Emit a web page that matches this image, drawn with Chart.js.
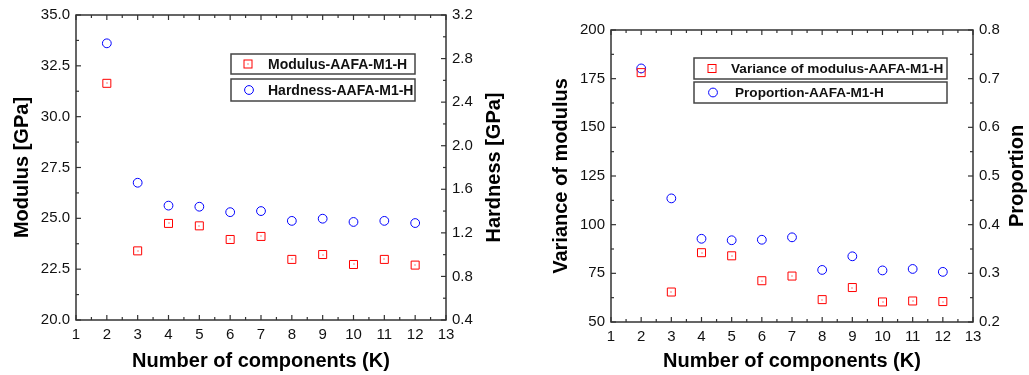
<!DOCTYPE html>
<html>
<head>
<meta charset="utf-8">
<script src="https://cdn.jsdelivr.net/npm/chart.js@4.4.0/dist/chart.umd.min.js"></script>
<style>
html, body { margin: 0; padding: 0; background: #fff; }
#wrap { position: relative; width: 1029px; height: 375px; }
#leftBox { position: absolute; left: 0; top: 0; width: 515px; height: 375px; }
#rightBox { position: absolute; left: 520px; top: 0; width: 509px; height: 375px; }
</style>
</head>
<body>
<div id="wrap">
	<div id="leftBox"><canvas id="leftChart" width="515" height="375"></canvas></div>
	<div id="rightBox"><canvas id="rightChart" width="509" height="375"></canvas></div>
</div>
<script>
// values
var kValues = [2, 3, 4, 5, 6, 7, 8, 9, 10, 11, 12];
var modulus = [31.64, 23.40, 24.75, 24.63, 23.96, 24.11, 22.98, 23.22, 22.73, 22.98, 22.70];
var hardness = [2.94, 1.66, 1.45, 1.44, 1.39, 1.40, 1.31, 1.33, 1.30, 1.31, 1.29];
var variance = [178.1, 65.4, 85.6, 84.0, 71.2, 73.6, 61.5, 67.7, 60.3, 60.8, 60.5];
var proportion = [0.721, 0.454, 0.371, 0.368, 0.369, 0.374, 0.307, 0.335, 0.306, 0.309, 0.303];

var FONT = 'Arial, "Liberation Sans", sans-serif';
var RED = '#ff0000';
var BLUE = '#0000ff';

function toPoints(xs, ys){
	var pts = [];
	for (var i = 0; i < xs.length; i++) pts.push({x: xs[i], y: ys[i]});
	return pts;
}

function drawMarker(ctx, style, x, y){
	ctx.save();
	ctx.lineWidth = 1;
	if (style === 'rect') {
		ctx.strokeStyle = RED;
		ctx.strokeRect(x - 4, y - 4, 8, 8);
		ctx.fillStyle = RED;
		ctx.fillRect(x - 0.5, y - 0.5, 1, 1);
	} else {
		ctx.strokeStyle = BLUE;
		ctx.beginPath();
		ctx.arc(x, y, 4.4, 0, Math.PI * 2);
		ctx.stroke();
	}
	ctx.restore();
}

// inward ticks (major + minor) on every side of the box
function drawScaleTicks(ctx, scale, minor, area, sides){
	var min = scale.min, max = scale.max;
	var n = Math.round((max - min) / minor);
	for (var i = 0; i <= n; i++) {
		var v = min + i * minor;
		var len = (i % 2 === 0) ? 5 : 3;
		var p = scale.getPixelForValue(v);
		ctx.beginPath();
		sides.forEach(function(s){
			if (s === 'bottom') { ctx.moveTo(p, area.bottom); ctx.lineTo(p, area.bottom - len); }
			if (s === 'top') { ctx.moveTo(p, area.top); ctx.lineTo(p, area.top + len); }
			if (s === 'left') { ctx.moveTo(area.left, p); ctx.lineTo(area.left + len, p); }
			if (s === 'right') { ctx.moveTo(area.right, p); ctx.lineTo(area.right - len, p); }
		});
		ctx.stroke();
	}
}

var boxPlugin = {
	id: 'boxPlugin',
	afterDatasetsDraw: function(chart){
		var ctx = chart.ctx;
		var meta = chart.getDatasetMeta(0);
		ctx.save();
		ctx.fillStyle = RED;
		meta.data.forEach(function(pt){
			ctx.fillRect(Math.round(pt.x) - 0.5, Math.round(pt.y) - 0.5, 1, 1);
		});
		ctx.restore();
	},
	afterDraw: function(chart, args, opts){
		var ctx = chart.ctx;
		var area = chart.chartArea;
		ctx.save();
		ctx.strokeStyle = '#333';
		ctx.lineWidth = 1.2;
		drawScaleTicks(ctx, chart.scales.x, opts.xMinor, area, ['bottom', 'top']);
		drawScaleTicks(ctx, chart.scales.y, opts.yMinor, area, ['left']);
		drawScaleTicks(ctx, chart.scales.y1, opts.y1Minor, area, ['right']);
		ctx.lineWidth = 1.5;
		ctx.strokeRect(area.left, area.top, area.right - area.left, area.bottom - area.top);

		// right axis title, reading bottom to top
		ctx.fillStyle = '#000';
		ctx.font = 'bold 20px ' + FONT;
		ctx.textAlign = 'center';
		ctx.textBaseline = 'middle';
		ctx.translate(chart.scales.y1.right - opts.rightTitleOffset, (area.top + area.bottom) / 2);
		ctx.rotate(-Math.PI / 2);
		ctx.fillText(opts.rightTitle, 0, 0);
		ctx.restore();

		// legend boxes
		ctx.save();
		opts.legend.forEach(function(item, i){
			var b = item.box;
			ctx.strokeStyle = '#444';
			ctx.lineWidth = 1.5;
			ctx.strokeRect(b[0], b[1], b[2], b[3]);
			var cy = b[1] + b[3] / 2;
			drawMarker(ctx, chart.data.datasets[i].pointStyle, item.markX, cy);
			ctx.fillStyle = '#111';
			ctx.font = 'bold ' + opts.legendSize + 'px ' + FONT;
			ctx.textAlign = 'left';
			ctx.textBaseline = 'middle';
			ctx.fillText(chart.data.datasets[i].label, item.textX, cy + 1);
		});
		ctx.restore();
	}
};

function createScatter(chartId, cfg){
	var canvas = document.getElementById(chartId).getContext('2d');
	return new Chart(canvas, {
		type: 'scatter',
		data: {
			datasets: [
				{
					label: cfg.labels[0],
					data: toPoints(kValues, cfg.left),
					yAxisID: 'y',
					pointStyle: 'rect',
					pointRadius: 5.66,
					borderColor: RED,
					backgroundColor: 'rgba(0,0,0,0)',
					borderWidth: 1
				},
				{
					label: cfg.labels[1],
					data: toPoints(kValues, cfg.right),
					yAxisID: 'y1',
					pointStyle: 'circle',
					pointRadius: 4.4,
					borderColor: BLUE,
					backgroundColor: 'rgba(0,0,0,0)',
					borderWidth: 1
				}
			]
		},
		options: {
			responsive: false,
			animation: false,
			events: [],
			layout: { padding: { top: cfg.top, left: 0, right: 0, bottom: 0 } },
			plugins: {
				legend: { display: false },
				tooltip: { enabled: false },
				boxPlugin: cfg.box
			},
			scales: {
				x: {
					type: 'linear',
					min: 1, max: 13,
					grid: { display: false, drawTicks: false },
					border: { display: false },
					ticks: { stepSize: 1, padding: 6, color: '#111', font: { family: FONT, size: 15 } },
					title: { display: true, text: 'Number of components (K)', color: '#000', padding: { top: 0, bottom: 2 }, font: { family: FONT, size: 20, weight: 'bold' } },
					afterFit: function(s){ s.height = cfg.xHeight; }
				},
				y: {
					position: 'left',
					min: cfg.yRange[0], max: cfg.yRange[1],
					grid: { display: false, drawTicks: false },
					border: { display: false },
					ticks: { stepSize: cfg.yStep, padding: 6, color: '#111', font: { family: FONT, size: 15 },
						callback: function(v){ return v.toFixed(cfg.yDec); } },
					title: { display: true, text: cfg.yTitle, color: '#000', padding: { top: cfg.yTitlePad, bottom: 0 }, font: { family: FONT, size: 20, weight: 'bold' } },
					afterFit: function(s){ s.width = cfg.yWidth; }
				},
				y1: {
					position: 'right',
					min: cfg.y1Range[0], max: cfg.y1Range[1],
					grid: { display: false, drawTicks: false },
					border: { display: false },
					ticks: { stepSize: cfg.y1Step, padding: 6, color: '#111', font: { family: FONT, size: 15 },
						callback: function(v){ return v.toFixed(1); } },
					afterFit: function(s){ s.width = cfg.y1Width; }
				}
			}
		},
		plugins: [boxPlugin]
	});
}

createScatter('leftChart', {
	labels: ['Modulus-AAFA-M1-H', 'Hardness-AAFA-M1-H'],
	left: modulus, right: hardness,
	yRange: [20, 35], yStep: 2.5, yDec: 1,
	y1Range: [0.4, 3.2], y1Step: 0.4,
	yTitle: 'Modulus [GPa]', yTitlePad: 10.5,
	top: 14, xHeight: 55, yWidth: 76, y1Width: 69,
	box: {
		xMinor: 0.5, yMinor: 1.25, y1Minor: 0.2,
		rightTitle: 'Hardness [GPa]', rightTitleOffset: 21,
		legendSize: 14,
		legend: [
			{ box: [231, 54, 184, 20], markX: 248, textX: 268 },
			{ box: [231, 79, 184, 22], markX: 249, textX: 268 }
		]
	}
});

createScatter('rightChart', {
	labels: ['Variance of modulus-AAFA-M1-H', 'Proportion-AAFA-M1-H'],
	left: variance, right: proportion,
	yRange: [50, 200], yStep: 25, yDec: 0,
	y1Range: [0.2, 0.8], y1Step: 0.1,
	yTitle: 'Variance of modulus', yTitlePad: 29.5,
	top: 30, xHeight: 53, yWidth: 91, y1Width: 56,
	box: {
		xMinor: 0.5, yMinor: 12.5, y1Minor: 0.05,
		rightTitle: 'Proportion', rightTitleOffset: 12,
		legendSize: 13.6,
		legend: [
			{ box: [174, 58, 253, 21], markX: 192, textX: 211 },
			{ box: [174, 82, 253, 21], markX: 193, textX: 215 }
		]
	}
});
</script>
</body>
</html>
